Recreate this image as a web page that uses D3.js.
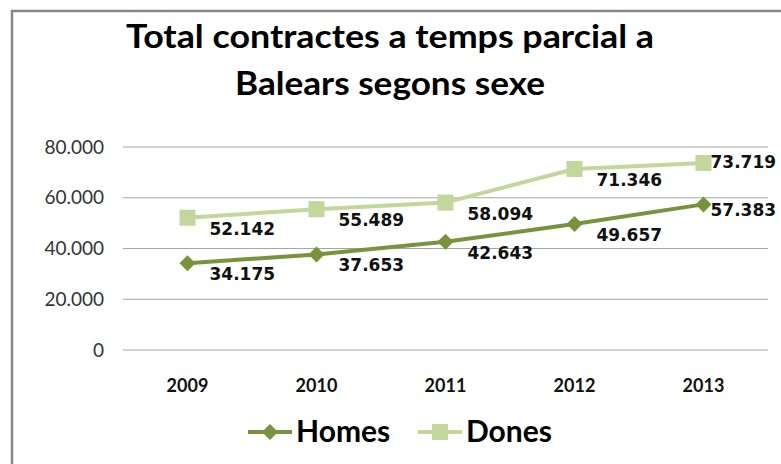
<!DOCTYPE html>
<html lang="ca">
<head>
<meta charset="UTF-8">
<title>Total contractes a temps parcial a Balears segons sexe</title>
<script src="https://d3js.org/d3.v7.min.js"></script>
<style>
  body { margin: 0; background: #fff; }
  svg { display: block; }
</style>
</head>
<body>
<div id="chart"></div>
<script>
// data
const years = ["2009", "2010", "2011", "2012", "2013"];
const homes = [34175, 37653, 42643, 49657, 57383];
const dones = [52142, 55489, 58094, 71346, 73719];
const yTicks = [0, 20000, 40000, 60000, 80000];

const W = 781, H = 464;
const svg = d3.select("#chart").append("svg")
  .attr("width", W).attr("height", H);

// frame of the chart area (right and bottom edges fall outside the picture)
svg.append("path")
  .attr("d", "M12,470 L12,11 L790,11")
  .attr("fill", "none")
  .attr("stroke", "#868686")
  .attr("stroke-width", 2.5);

// title (stretched a little, the original font is wider)
const title = svg.append("text")
  .attr("text-anchor", "middle")
  .attr("font-family", "Lato, sans-serif")
  .attr("font-weight", "bold")
  .attr("font-size", 32)
  .attr("fill", "#000");
title.append("tspan").attr("x", 390).attr("y", 48)
  .attr("textLength", 528).attr("lengthAdjust", "spacingAndGlyphs")
  .text("Total contractes a temps parcial a");
title.append("tspan").attr("x", 390).attr("y", 95)
  .attr("textLength", 310).attr("lengthAdjust", "spacingAndGlyphs")
  .text("Balears segons sexe");

const x = d3.scaleBand().domain(years).range([123, 768]);
const y = d3.scaleLinear().domain([0, 80000]).range([350, 147]);
const fmt = d3.formatLocale({ decimal: ",", thousands: ".", grouping: [3] }).format(",d");

// grid
svg.append("g").selectAll("line").data(yTicks).join("line")
  .attr("x1", 123).attr("x2", 768)
  .attr("y1", d => y(d)).attr("y2", d => y(d))
  .attr("stroke", "#a6a6a6").attr("stroke-width", 1);

// y axis labels
svg.append("g").selectAll("text").data(yTicks).join("text")
  .attr("x", 104).attr("y", d => y(d)).attr("dy", "0.35em")
  .attr("text-anchor", "end")
  .attr("font-family", "Lato, sans-serif").attr("font-size", 19)
  .attr("fill", "#333")
  .text(d => fmt(d));

// x axis labels
svg.append("g").selectAll("text").data(years).join("text")
  .attr("x", d => x(d) + x.bandwidth() / 2).attr("y", 392)
  .attr("text-anchor", "middle")
  .attr("font-family", "Lato, sans-serif").attr("font-size", 18)
  .attr("font-weight", "bold").attr("fill", "#111")
  .text(d => d);

const cx = d => x(d) + x.bandwidth() / 2;

const series = [
  { name: "Dones", values: dones, color: "#c3d69b", marker: "square" },
  { name: "Homes", values: homes, color: "#77933c", marker: "diamond" }
];

const line = d3.line().x((d, i) => cx(years[i])).y(d => y(d));

function drawMarker(g, type, color, px, py) {
  if (type === "square") {
    g.append("rect").attr("x", px - 8).attr("y", py - 8)
      .attr("width", 16).attr("height", 16).attr("fill", color);
  } else {
    g.append("path")
      .attr("d", `M${px},${py - 8} L${px + 8},${py} L${px},${py + 8} L${px - 8},${py} Z`)
      .attr("fill", color);
  }
}

series.forEach(s => {
  const g = svg.append("g");
  g.append("path").datum(s.values)
    .attr("d", line).attr("fill", "none")
    .attr("stroke", s.color).attr("stroke-width", 4)
    .attr("stroke-linejoin", "round");
  s.values.forEach((v, i) => drawMarker(g, s.marker, s.color, cx(years[i]), y(v)));

  // data labels: right-below the point, last one pulled in next to the point
  g.selectAll("text").data(s.values).join("text")
    .attr("x", (d, i) => cx(years[i]) + (i === years.length - 1 ? 7 : 22))
    .attr("y", (d, i) => y(d) + (i === years.length - 1 ? (s.name === "Dones" ? 5 : 12) : 17))
    .attr("font-family", "DejaVu Sans, sans-serif").attr("font-weight", "bold")
    .attr("font-size", 17).attr("fill", "#111")
    .text(d => fmt(d));
});

// legend
const legend = [
  { name: "Homes", color: "#77933c", marker: "diamond", x: 248 },
  { name: "Dones", color: "#c3d69b", marker: "square", x: 418 }
];
legend.forEach(l => {
  const g = svg.append("g");
  g.append("line").attr("x1", l.x).attr("x2", l.x + 44)
    .attr("y1", 432).attr("y2", 432)
    .attr("stroke", l.color).attr("stroke-width", 4);
  drawMarker(g, l.marker, l.color, l.x + 22, 432);
  g.append("text").attr("x", l.x + 48).attr("y", 442)
    .attr("font-family", "Lato, sans-serif").attr("font-weight", "bold")
    .attr("font-size", 30).attr("fill", "#000")
    .text(l.name);
});
</script>
</body>
</html>
